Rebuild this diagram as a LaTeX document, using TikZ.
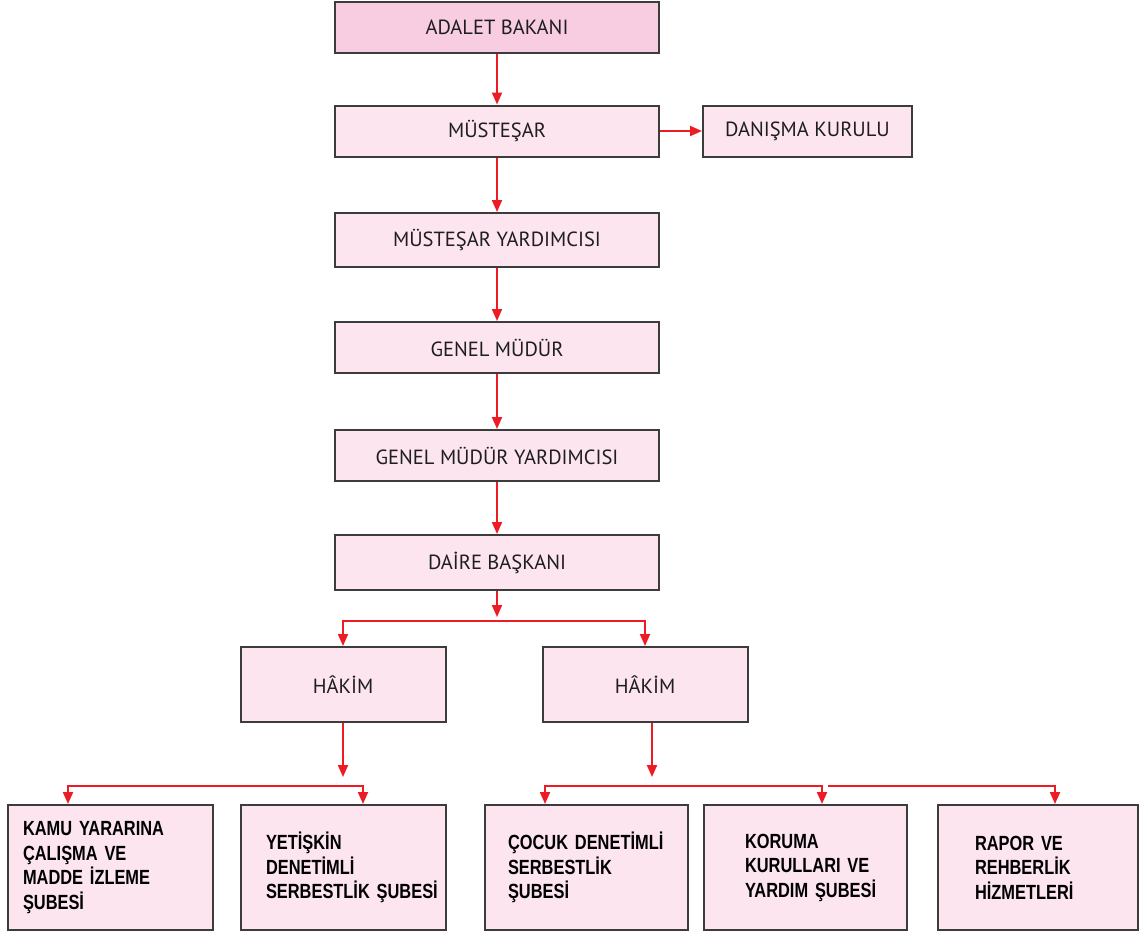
\documentclass[tikz,border=0pt]{standalone}
\usepackage{fontspec}
\setmainfont{PT Sans}
\newfontfamily\condfont{Liberation Sans}[FakeStretch=0.8]
\usetikzlibrary{arrows.meta,calc}
\hyphenpenalty=10000
\definecolor{bakanpink}{RGB}{248,205,226}
\definecolor{boxpink}{RGB}{252,229,239}
\definecolor{boxline}{RGB}{60,60,60}
\definecolor{arrowred}{RGB}{237,28,36}
\definecolor{textgray}{RGB}{30,30,30}
\tikzset{
  topbox/.style={draw=boxline, line width=2pt, fill=boxpink, rectangle,
    minimum width=324pt, minimum height=51pt, inner sep=0pt, text=textgray,
    font=\fontsize{20.5}{24}\selectfont},
  subbox/.style={draw=boxline, line width=2pt, fill=boxpink, rectangle,
    minimum height=125pt, inner sep=0pt, align=left,
    font=\condfont\bfseries\fontsize{20.5}{24.5}\selectfont},
  arr/.style={draw=arrowred, line width=2pt, -{Triangle[length=12pt,width=10pt]}},
}

\begin{document}
\begin{tikzpicture}[x=1pt, y=-1pt]
  \useasboundingbox (0,0) rectangle (1139,937);

  % chain of offices
  \node at (497,27.5) [topbox, fill=bakanpink] (bakan) {ADALET BAKANI};
  \node at (497,131) [topbox] (mustesar) {MÜSTEŞAR};
  \node at (807.5,131) [topbox, minimum width=209pt] (danisma) {DANIŞMA KURULU};
  \node at (497,240) [topbox, minimum height=54pt] (myard) {MÜSTEŞAR YARDIMCISI};
  \node at (497,347.5) [topbox] (gm) {GENEL MÜDÜR};
  \node at (497,455.5) [topbox] (gmy) {GENEL MÜDÜR YARDIMCISI};
  \node at (497,562.5) [topbox, minimum height=55pt] (daire) {DAİRE BAŞKANI};

  \foreach \from / \to in {bakan/mustesar, mustesar/myard, myard/gm, gm/gmy, gmy/daire} {
    \draw[arr] (\from) -- (\to);
  }
  \draw[arr] (mustesar) -- (danisma);

  % judges
  \node at (343,684.5) [topbox, minimum width=205pt, minimum height=75pt] (hakim1) {HÂKİM};
  \node at (645,684.5) [topbox, minimum width=205pt, minimum height=75pt] (hakim2) {HÂKİM};

  \coordinate (dbus) at ($ (daire.south) + (0,30) $);
  \draw[arr, shorten >=4pt] (daire) -- (dbus);
  \draw[arr] (dbus) -| (hakim1);
  \draw[arr] (dbus) -| (hakim2);

  % branches
  \node at (110.5,867.5) [subbox, minimum width=205pt, text width=175pt] (kamu)
    {KAMU~YARARINA\\ÇALIŞMA~VE\\MADDE~İZLEME\\ŞUBESİ};
  \node at (343.5,867.5) [subbox, minimum width=205pt, text width=155pt] (yetiskin)
    {YETİŞKİN\\DENETİMLİ\\SERBESTLİK~ŞUBESİ};
  \node at (586.5,867.5) [subbox, minimum width=203pt, text width=157pt] (cocuk)
    {ÇOCUK~DENETİMLİ\\SERBESTLİK\\ŞUBESİ};
  \node at (805.5,867.5) [subbox, minimum width=203pt, text width=121pt] (koruma)
    {KORUMA\\KURULLARI~VE\\YARDIM~ŞUBESİ};
  \node at (1038,867.5) [subbox, minimum width=200pt, text width=126pt] (rapor)
    {RAPOR~VE\\REHBERLİK\\HİZMETLERİ};

  \coordinate (h1bus) at ($ (hakim1.south) + (0,63) $);
  \draw[arr, shorten >=9pt] (hakim1) -- (h1bus);
  \draw[arr] (h1bus) -| ($ (kamu.north) + (-42.5,0) $);
  \draw[arr] (h1bus) -| ($ (yetiskin.north) + (19.5,0) $);

  \coordinate (h2bus) at ($ (hakim2.south) + (7,63) $);
  \draw[arr, shorten >=9pt] ($ (hakim2.south) + (7,0) $) -- (h2bus);
  \draw[arr] (h2bus) -| ($ (cocuk.north) + (-41.5,0) $);
  \draw[arr] (h2bus) -| ($ (koruma.north) + (16.5,0) $);
  \draw[arr] ($ (koruma.north |- h2bus) + (22.5,0) $) -| ($ (rapor.north) + (17,0) $);
\end{tikzpicture}
\end{document}
